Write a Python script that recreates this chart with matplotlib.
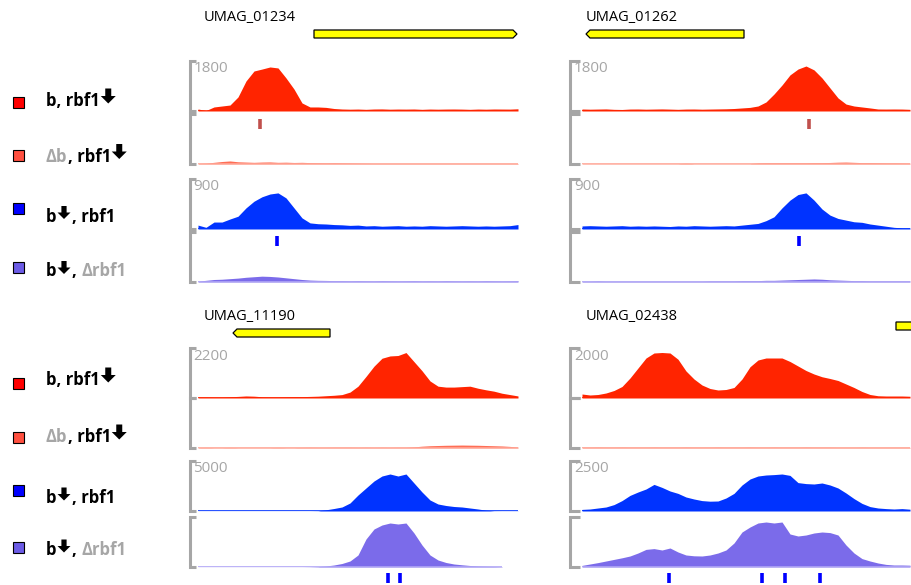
import numpy as np
import matplotlib.pyplot as plt
from matplotlib.patches import Polygon, Rectangle

plt.rcParams['font.family'] = ['Open Sans', 'DejaVu Sans']

W, H = 911, 585
pos = np.arange(0, 330, 8)  # coverage sampled every 8 units across each window

# ---- coverage (reads) per locus: red, salmon, blue, purple ----
tl_red = [72, 18, 145, 180, 215, 505, 1080, 1440, 1510, 1585, 1550, 1190, 790, 290, 145, 145, 130, 90,
          72, 65, 70, 60, 72, 75, 65, 70, 68, 72, 60, 70, 65, 70, 72, 68, 60, 70, 65, 72, 70, 68, 80]
tl_salmon = [20, 30, 60, 90, 110, 80, 70, 60, 70, 75, 60, 65, 55, 60, 50, 45, 40, 45, 40, 35, 30,
             25, 20, 20, 20, 20, 20, 20, 20, 20, 20, 20, 20, 20, 20, 20, 20, 20, 20, 20, 20]
tl_blue = [70, 30, 125, 125, 180, 230, 380, 500, 580, 630, 650, 560, 380, 200, 110, 95, 90, 80, 75, 65,
           70, 55, 60, 50, 55, 60, 50, 55, 50, 60, 55, 50, 55, 60, 55, 50, 55, 50, 55, 60, 80]
tl_purple = [15, 30, 45, 50, 60, 70, 85, 95, 105, 100, 90, 75, 60, 45, 35, 30, 28, 25, 25, 22, 25,
             22, 20, 25, 22, 20, 22, 25, 20, 22, 20, 25, 22, 20, 22, 20, 25, 22, 20, 22, 25]

tr_red = [72, 65, 70, 75, 60, 55, 70, 72, 65, 70, 75, 68, 60, 70, 72, 65, 70, 75, 80, 90, 110, 130,
          180, 325, 610, 935, 1300, 1510, 1620, 1480, 1190, 830, 470, 250, 180, 145, 110, 72, 70, 72, 70, 60]
tr_salmon = [15, 15, 15, 15, 15, 15, 15, 15, 15, 15, 15, 15, 15, 25, 15, 15, 15, 15, 15, 15, 15,
             15, 40, 45, 45, 45, 45, 45, 45, 50, 50, 55, 65, 70, 60, 50, 50, 45, 40, 40, 35, 30]
tr_blue = [55, 60, 55, 50, 55, 60, 50, 55, 50, 55, 50, 45, 55, 50, 60, 55, 50, 55, 60, 55, 70,
           85, 100, 150, 220, 380, 520, 620, 650, 520, 360, 250, 190, 160, 130, 120, 90, 70, 50, 30, 20, 20]
tr_purple = [15, 15, 20, 15, 15, 15, 15, 15, 15, 15, 15, 15, 15, 15, 15, 15, 20, 20, 20, 20, 25,
             25, 25, 30, 30, 35, 40, 45, 50, 55, 50, 40, 35, 30, 25, 25, 20, 20, 20, 20, 20, 20]

bl_red = [50, 50, 45, 45, 55, 70, 90, 80, 55, 50, 50, 55, 60, 60, 70, 80, 100, 120, 150, 260, 520,
          950, 1400, 1750, 1850, 1870, 2000, 1600, 1200, 750, 520, 480, 480, 500, 520, 430, 360, 300, 210, 150, 90]
bl_salmon = [20, 25, 20, 20, 25, 20, 20, 20, 20, 20, 25, 20, 20, 25, 30, 25, 25, 30, 30, 30, 25,
             30, 25, 30, 25, 30, 30, 50, 80, 100, 110, 120, 125, 130, 125, 120, 110, 100, 90, 70, 40]
bl_blue = [10, 10, 10, 10, 10, 10, 10, 10, 10, 10, 10, 10, 10, 10, 10, 20, 120, 250, 400, 800, 1600,
           2300, 3000, 3500, 3700, 3500, 3700, 2800, 1900, 1100, 700, 550, 450, 400, 300, 200, 80, 20, 15, 15, 15]
bl_purple = [10, 10, 10, 10, 10, 10, 10, 10, 10, 10, 10, 10, 10, 10, 20, 40, 100, 200, 350, 600, 1200,
             2800, 3800, 4200, 4400, 4300, 4400, 3400, 2200, 1200, 700, 450, 300, 220, 150, 100, 70, 50, 40]

br_red = [160, 120, 140, 200, 300, 460, 800, 1200, 1600, 1800, 1820, 1800, 1550, 1080, 760, 520, 380,
          320, 340, 420, 760, 1250, 1520, 1600, 1600, 1600, 1460, 1280, 1100, 960, 850, 780, 700, 560,
          420, 260, 140, 90, 80, 80, 80, 70]
br_salmon = [30, 30, 35, 30, 30, 35, 30, 30, 30, 35, 30, 30, 30, 35, 30, 30, 30, 35, 30, 30, 30,
             35, 30, 30, 35, 30, 30, 30, 35, 30, 30, 30, 25, 25, 25, 30, 25, 25, 25, 25, 25, 25]
br_blue = [80, 100, 150, 200, 320, 520, 780, 950, 1100, 1330, 1180, 1000, 880, 700, 600, 520, 490, 500,
           650, 880, 1300, 1600, 1750, 1800, 1820, 1850, 1780, 1420, 1370, 1350, 1400, 1300, 1150, 900,
           620, 380, 220, 150, 120, 100, 120, 90]
br_purple = [80, 150, 220, 300, 380, 460, 550, 700, 880, 920, 850, 950, 750, 600, 560, 550, 600, 700,
             850, 1200, 1750, 2000, 2200, 2250, 2200, 2250, 1650, 1550, 1600, 1700, 1750, 1720, 1600,
             1100, 700, 420, 300, 200, 130, 100, 100, 90]

# track scale maxima (reads)
tl_scale = [1800, 900]
tr_scale = [1800, 900]
bl_scale = [2200, 5000]
br_scale = [2000, 2500]

# genes: (name, start, end, strand) in window coordinates
tl_gene = ('UMAG_01234', 116, 319, '+')
tr_gene = ('UMAG_01262', 4, 162, '-')
bl_gene = ('UMAG_11190', 35, 132, '-')
br_gene = ('UMAG_02438', 314, 380, '+')

# binding sites (window coordinates)
tl_red_sites, tl_blue_sites = [62], [78.5]
tr_red_sites, tr_blue_sites = [226.5], [217]
bl_blue_sites = [189.5, 201.5]
br_blue_sites = [86.5, 180, 203, 238]

fill_colors = ['#ff2400', '#ff6e55', '#0033ff', '#7b6bea']
base_colors = ['#ff2400', '#ffa696', '#0033ff', '#b0a6f6']
square_colors = ['#ff0000', '#ff5040', '#0000ff', '#6c5ce6']
GRAY = '#a6a6a6'

fig = plt.figure(figsize=(W / 100, H / 100), dpi=100)
ov = fig.add_axes([0, 0, 1, 1], zorder=5)
ov.set_xlim(0, W)
ov.set_ylim(H, 0)
ov.axis('off')


def draw_panel(x0, brx, bases, tracks, scales, gene, gene_y, title_y, red_sites, blue_sites, below):
    axes = []
    for k, (vals, base) in enumerate(zip(tracks, bases)):
        ax = fig.add_axes([x0 / W, 1 - base / H, 330 / W, 50 / H])
        ax.set_xlim(0, 330)
        ax.set_ylim(0, scales[k // 2])
        ax.axis('off')
        xs = pos[:len(vals)]
        ax.fill_between(xs, 0, vals, color=fill_colors[k], lw=0)
        ax.plot(xs, np.zeros(len(xs)), color=base_colors[k], lw=1.2, solid_capstyle='butt')
        axes.append(ax)
        top = base - 50
        ov.plot([x0 - 2, brx, brx, x0 - 2], [top, top, base, base], color=GRAY, lw=2.2,
                solid_joinstyle='miter', solid_capstyle='butt')
        if k % 2 == 0:
            ov.text(brx + 4, top + 0.5, str(scales[k // 2]), color=GRAY, fontsize=11, va='top', ha='left')
    # binding-site ticks
    tr = axes[1].get_xaxis_transform()
    for s in red_sites:
        axes[1].vlines(s, 0.7, 0.9, transform=tr, color='#c0504d', lw=2.6)
    tr = axes[3].get_xaxis_transform()
    for s in blue_sites:
        if below:
            axes[3].vlines(s, -0.12, -0.32, transform=tr, color='#0000ff', lw=2.6, clip_on=False)
        else:
            axes[3].vlines(s, 0.72, 0.92, transform=tr, color='#0000ff', lw=2.6)
    # gene model
    gx = fig.add_axes([x0 / W, 1 - (gene_y + 8) / H, 330 / W, 16 / H])
    gx.set_xlim(0, 330)
    gx.set_ylim(-8, 8)
    gx.axis('off')
    name, s, e, strand = gene
    if strand == '+':
        pts = [(s, -4), (e - 4, -4), (e, 0), (e - 4, 4), (s, 4)]
    else:
        pts = [(s, 0), (s + 4, -4), (e, -4), (e, 4), (s + 4, 4)]
    gx.add_patch(Polygon(pts, closed=True, facecolor='#ffff00', edgecolor='black', lw=0.9))
    ov.text(x0 + 6 if x0 < 300 else x0 + 4, title_y, name, fontsize=10.5, va='baseline', ha='left')


draw_panel(198, 189.5, [111, 164, 229, 282], [tl_red, tl_salmon, tl_blue, tl_purple], tl_scale,
           tl_gene, 34, 21, tl_red_sites, tl_blue_sites, False)
draw_panel(582, 570, [111, 164, 229, 282], [tr_red, tr_salmon, tr_blue, tr_purple], tr_scale,
           tr_gene, 34, 21, tr_red_sites, tr_blue_sites, False)
draw_panel(198, 189.5, [398, 448, 511, 567], [bl_red, bl_salmon, bl_blue, bl_purple], bl_scale,
           bl_gene, 333, 320.5, [], bl_blue_sites, True)
draw_panel(582, 570, [398, 448, 511, 567], [br_red, br_salmon, br_blue, br_purple], br_scale,
           br_gene, 326, 320.5, [], br_blue_sites, True)

# ---- legend ----
legend_parts = [
    [('b, rbf1', 'k'), None],
    [('Δb', GRAY), (', rbf1', 'k'), None],
    [('b', 'k'), None, (', rbf1', 'k')],
    [('b', 'k'), None, (',', 'k'), ('Δrbf1', GRAY)],
]
arrow_size = [15, 15, 13, 13]
renderer = fig.canvas.get_renderer()


def arrow_glyph(x, yb, size):
    hw = size / 2.0
    sw = size * 0.2
    pts = [(x + hw - sw, yb - size), (x + hw + sw, yb - size), (x + hw + sw, yb - size * 0.5),
           (x + size, yb - size * 0.5), (x + hw, yb), (x, yb - size * 0.5), (x + hw - sw, yb - size * 0.5)]
    ov.add_patch(Polygon(pts, closed=True, facecolor='black', edgecolor='none'))
    return x + size


def legend_block(baselines, square_tops):
    for i, (yb, sq) in enumerate(zip(baselines, square_tops)):
        ov.add_patch(Rectangle((13, sq), 11, 11, facecolor=square_colors[i], edgecolor='black', lw=0.8))
        x = 46
        for part in legend_parts[i]:
            if part is None:
                x = arrow_glyph(x + 1, yb - 2.5, arrow_size[i]) + 1
                continue
            txt, col = part
            t = ov.text(x, yb, txt, color=col, fontsize=12, fontweight='bold', va='baseline', ha='left')
            x += t.get_window_extent(renderer=renderer).width
            if txt == ',':
                x += 5


legend_block([106, 161.5, 221.5, 276.5], [97, 150, 203, 262])
legend_block([385, 442, 503, 555], [378, 432, 485, 542])

fig.savefig('out.png', dpi=100)
